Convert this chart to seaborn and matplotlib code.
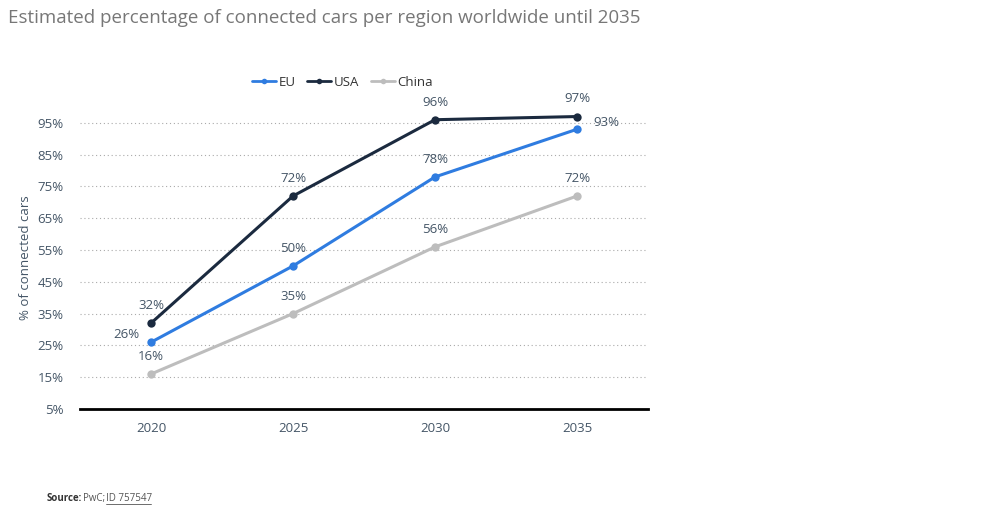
import matplotlib
matplotlib.use("Agg")
import matplotlib.pyplot as plt
import seaborn as sns
import pandas as pd

years = [2020, 2025, 2030, 2035]
eu = [26, 50, 78, 93]
usa = [32, 72, 96, 97]
china = [16, 35, 56, 72]
yticks = [5, 15, 25, 35, 45, 55, 65, 75, 85, 95]

sns.set_theme(style="white")
plt.rcParams['font.family'] = ['Open Sans', 'DejaVu Sans']

df = pd.DataFrame({
    'year': years * 3,
    'value': eu + usa + china,
    'region': ['EU'] * 4 + ['USA'] * 4 + ['China'] * 4,
})
palette = {'EU': '#2f7ce0', 'USA': '#1b2a3f', 'China': '#bdbdbd'}

fig = plt.figure(figsize=(10, 5.11), dpi=100)
ax = fig.add_axes([0.08, 0.1996, 0.568, 0.591])

sns.lineplot(data=df, x='year', y='value', hue='region', palette=palette,
             marker='o', markersize=6, markeredgewidth=0, linewidth=2.2, ax=ax)

ax.set_xlim(2017.5, 2037.5)
ax.set_ylim(5, 100)
ax.set_yticks(yticks)
ax.set_yticklabels([f"{t}%" for t in yticks])
ax.set_xticks(years)
ax.set_xticklabels([str(y) for y in years])
ax.tick_params(axis='both', colors='#445566', labelsize=9.5, length=0)
ax.tick_params(axis='y', pad=12)
ax.tick_params(axis='x', pad=9)
for t in yticks[1:]:
    ax.axhline(t, color='#aaaaaa', linestyle=(0, (1, 2.5)), linewidth=0.8, zorder=0)
for s in ['top', 'right', 'left']:
    ax.spines[s].set_visible(False)
ax.spines['bottom'].set_color('black')
ax.spines['bottom'].set_linewidth(2)
ax.set_xlabel('')
ax.set_ylabel('% of connected cars', color='#445566', fontsize=9.5, labelpad=4)

lab_color = '#445566'
for series, name in [(eu, 'EU'), (usa, 'USA'), (china, 'China')]:
    for i, (x, v) in enumerate(zip(years, series)):
        dx, dy, ha = 0, 8, 'center'
        if name == 'EU' and i == 0:
            dx, dy = -18, 1
        if name == 'EU' and i == 3:
            dx, dy, ha = 12, 0, 'left'
        ax.annotate(f"{v}%", (x, v), xytext=(dx, dy), textcoords='offset points',
                    ha=ha, va='bottom', fontsize=9.5, color=lab_color)

leg = ax.legend(loc='lower center', bbox_to_anchor=(0.462, 1.02), ncol=3, frameon=False,
                fontsize=9.5, handlelength=1.8, handletextpad=0.2, columnspacing=0.9)
for t in leg.get_texts():
    t.set_color('#333333')
for h in leg.legend_handles:
    h.set_markersize(4)
    h.set_linewidth(2)

fig.text(0.008, 0.965, 'Estimated percentage of connected cars per region worldwide until 2035',
         fontsize=13.5, color='#777777', ha='left', va='center')
fig.text(0.047, 0.025, 'Source:', fontsize=7, color='#333333', fontweight='bold', ha='left', va='center')
fig.text(0.083, 0.025, 'PwC;', fontsize=7, color='#555555', ha='left', va='center')
fig.text(0.106, 0.025, 'ID 757547', fontsize=7, color='#555555', ha='left', va='center')
fig.add_artist(plt.Line2D([0.106, 0.151], [0.013, 0.013], color='#555555', linewidth=0.6))

fig.savefig('out.png', dpi=100)
